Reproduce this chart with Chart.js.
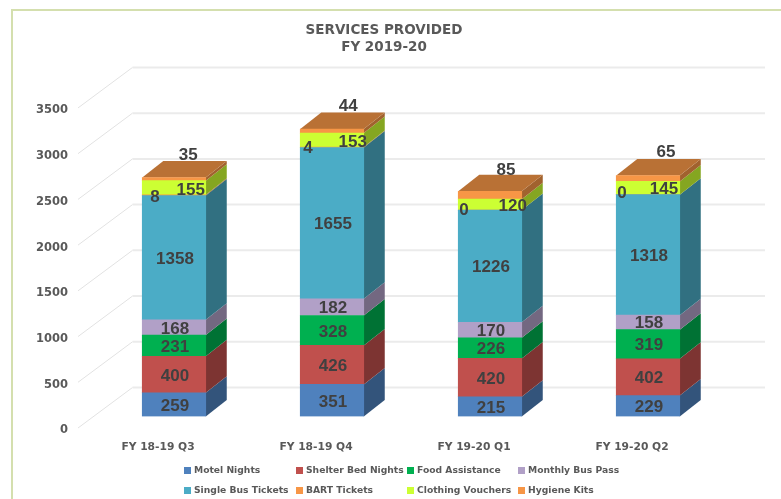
<!DOCTYPE html>
<html>
<head>
<meta charset="utf-8">
<title>Services Provided</title>
<script src="https://cdn.jsdelivr.net/npm/chart.js@4"></script>
<style>
    html, body { margin: 0; padding: 0; background: #fff; overflow: hidden; }
    #wrap { position: relative; width: 781px; height: 499px; }
    #frame { position: absolute; left: 11px; top: 9px; right: 0; bottom: 0;
             border-left: 2px solid #d4dfae; border-top: 2px solid #d4dfae; }
    canvas { position: absolute; left: 0; top: 0; }
</style>
</head>
<body>
<div id="wrap">
    <div id="frame"></div>
    <canvas id="chart" width="781" height="499"></canvas>
</div>
<script>
// Chart data
const quarters = ['FY 18-19 Q3', 'FY 18-19 Q4', 'FY 19-20 Q1', 'FY 19-20 Q2'];
const motelNights = [259, 351, 215, 229];
const shelterBedNights = [400, 426, 420, 402];
const foodAssistance = [231, 328, 226, 319];
const monthlyBusPass = [168, 182, 170, 158];
const singleBusTickets = [1358, 1655, 1226, 1318];
const bartTickets = [8, 4, 0, 0];
const clothingVouchers = [155, 153, 120, 145];
const hygieneKits = [35, 44, 85, 65];

const TEXT_FONT = '"DejaVu Sans", Verdana, sans-serif';
const LABEL_FONT = '"Liberation Sans", Arial, sans-serif';
const TEXT_COLOR = '#595959';
const GRID_COLOR = '#ebebeb';

// 3D depth of a bar and of the floor, in pixels
const BAR_DX = 21, BAR_DY = -16.5;
const WALL_BACK_X = 132.5, WALL_FRONT_X = 78, WALL_RIGHT_X = 765;
const WALL_FRONT_DY = 11.5, WALL_BACK_DY = -29;

// Hand placed data labels, the small top segments are moved off the bar centre
const labelShifts = {
    5: [[-19, 2], [-24, 1], [-26, 0], [-26, -1]],
    6: [[16.7, 2.6], [20.7, 2], [22.7, 1.4], [16, 1.6]],
    7: [[14.3, -23.6], [16.3, -24.7], [16, -24.9], [18, -26]]
};

const legendColumns = [184, 296, 407, 518];
const legendRows = [470.5, 490.5];

function shade(hex, factor) {
    const n = parseInt(hex.slice(1), 16);
    const r = Math.round((n >> 16 & 255) * factor);
    const g = Math.round((n >> 8 & 255) * factor);
    const b = Math.round((n & 255) * factor);
    return `rgb(${r}, ${g}, ${b})`;
}

function polygon(ctx, points, color) {
    ctx.fillStyle = color;
    ctx.beginPath();
    points.forEach((p, i) => i ? ctx.lineTo(p[0], p[1]) : ctx.moveTo(p[0], p[1]));
    ctx.closePath();
    ctx.fill();
}

// Tick labels stick out past the narrow y axis box and get clipped otherwise
const axisBoxPlugin = {
    id: 'axisBox',
    afterLayout(chart) {
        chart.scales.y.left = 20;
    }
};

// Back wall and side wall lines, drawn from the y scale
const wallPlugin = {
    id: 'wall',
    beforeDatasetsDraw(chart) {
        const ctx = chart.ctx;
        const y = chart.scales.y;
        ctx.save();
        y.ticks.forEach(tick => {
            const py = y.getPixelForValue(tick.value);
            ctx.strokeStyle = '#e2e2e2';
            ctx.lineWidth = 1;
            ctx.beginPath();
            ctx.moveTo(WALL_FRONT_X, py + WALL_FRONT_DY);
            ctx.lineTo(WALL_BACK_X, py + WALL_BACK_DY);
            ctx.stroke();
            ctx.strokeStyle = GRID_COLOR;
            ctx.lineWidth = 2;
            ctx.beginPath();
            ctx.moveTo(WALL_BACK_X, py + WALL_BACK_DY);
            ctx.lineTo(WALL_RIGHT_X, py + WALL_BACK_DY);
            ctx.stroke();
        });
        ctx.restore();
    }
};

// Side faces and top face of every stacked bar
const depthPlugin = {
    id: 'depth',
    beforeDatasetsDraw(chart) {
        const ctx = chart.ctx;
        const last = chart.data.datasets.length - 1;
        ctx.save();
        chart.data.datasets.forEach((dataset, d) => {
            chart.getDatasetMeta(d).data.forEach(bar => {
                const right = bar.x + bar.width / 2;
                const left = bar.x - bar.width / 2;
                polygon(ctx, [
                    [right, bar.base], [right + BAR_DX, bar.base + BAR_DY],
                    [right + BAR_DX, bar.y + BAR_DY], [right, bar.y]
                ], shade(dataset.backgroundColor, 0.65));
                if (d === last) {
                    polygon(ctx, [
                        [left, bar.y], [right, bar.y],
                        [right + BAR_DX, bar.y + BAR_DY], [left + BAR_DX, bar.y + BAR_DY]
                    ], shade(dataset.backgroundColor, 0.75));
                }
            });
        });
        ctx.restore();
    }
};

// Value labels on the bars
const valueLabelPlugin = {
    id: 'valueLabels',
    afterDatasetsDraw(chart) {
        const ctx = chart.ctx;
        ctx.save();
        ctx.font = `bold 17px ${LABEL_FONT}`;
        ctx.fillStyle = '#404040';
        ctx.textAlign = 'center';
        ctx.textBaseline = 'middle';
        chart.data.datasets.forEach((dataset, d) => {
            chart.getDatasetMeta(d).data.forEach((bar, i) => {
                const shift = labelShifts[d] ? labelShifts[d][i] : [1, 1.4];
                ctx.fillText(dataset.data[i], bar.x + shift[0], (bar.y + bar.base) / 2 + shift[1]);
            });
        });
        ctx.restore();
    }
};

// Legend in four fixed columns, the built in one can't line them up
const gridLegendPlugin = {
    id: 'gridLegend',
    afterDraw(chart) {
        const ctx = chart.ctx;
        ctx.save();
        ctx.font = `bold 9.2px ${TEXT_FONT}`;
        ctx.textAlign = 'left';
        ctx.textBaseline = 'middle';
        chart.data.datasets.forEach((dataset, d) => {
            const x = legendColumns[d % 4];
            const y = legendRows[Math.floor(d / 4)];
            ctx.fillStyle = dataset.backgroundColor;
            ctx.fillRect(x, y - 3.5, 7, 7);
            ctx.fillStyle = TEXT_COLOR;
            ctx.fillText(dataset.label, x + 10, y);
        });
        ctx.restore();
    }
};

new Chart(document.getElementById('chart').getContext('2d'), {
    type: 'bar',
    data: {
        labels: quarters,
        datasets: [
            { label: 'Motel Nights', data: motelNights, backgroundColor: '#4f81bd' },
            { label: 'Shelter Bed Nights', data: shelterBedNights, backgroundColor: '#c0504d' },
            { label: 'Food Assistance', data: foodAssistance, backgroundColor: '#00b050' },
            { label: 'Monthly Bus Pass', data: monthlyBusPass, backgroundColor: '#b1a0c7' },
            { label: 'Single Bus Tickets', data: singleBusTickets, backgroundColor: '#4bacc6' },
            { label: 'BART Tickets', data: bartTickets, backgroundColor: '#f79646' },
            { label: 'Clothing Vouchers', data: clothingVouchers, backgroundColor: '#ccff33' },
            { label: 'Hygiene Kits', data: hygieneKits, backgroundColor: '#f79646' }
        ]
    },
    options: {
        responsive: false,
        animation: false,
        barThickness: 63.5,
        layout: { padding: { left: 41, right: 54, top: 0, bottom: 42.5 } },
        plugins: {
            legend: { display: false },
            tooltip: { enabled: false },
            title: {
                display: true,
                text: ['SERVICES PROVIDED', 'FY 2019-20'],
                color: TEXT_COLOR,
                font: { family: TEXT_FONT, size: 13.5, weight: 'bold', lineHeight: 1.25 },
                padding: { top: 22, bottom: 40.7 }
            }
        },
        scales: {
            x: {
                stacked: true,
                afterFit(scale) { scale.height = 40; },
                grid: { display: false, drawTicks: false },
                border: { display: false },
                ticks: {
                    color: TEXT_COLOR,
                    font: { family: TEXT_FONT, size: 10.7, weight: 'bold' },
                    labelOffset: -16,
                    padding: 24,
                    maxRotation: 0
                }
            },
            y: {
                stacked: true,
                min: 0,
                max: 3500,
                afterFit(scale) { scale.width = 54; },
                grid: { display: false, drawTicks: false },
                border: { display: false },
                ticks: {
                    stepSize: 500,
                    callback: value => String(value),
                    color: TEXT_COLOR,
                    font: { family: TEXT_FONT, size: 11.5, weight: 'bold' },
                    labelOffset: 14,
                    padding: 27
                }
            }
        }
    },
    plugins: [axisBoxPlugin, wallPlugin, depthPlugin, valueLabelPlugin, gridLegendPlugin]
});
</script>
</body>
</html>
